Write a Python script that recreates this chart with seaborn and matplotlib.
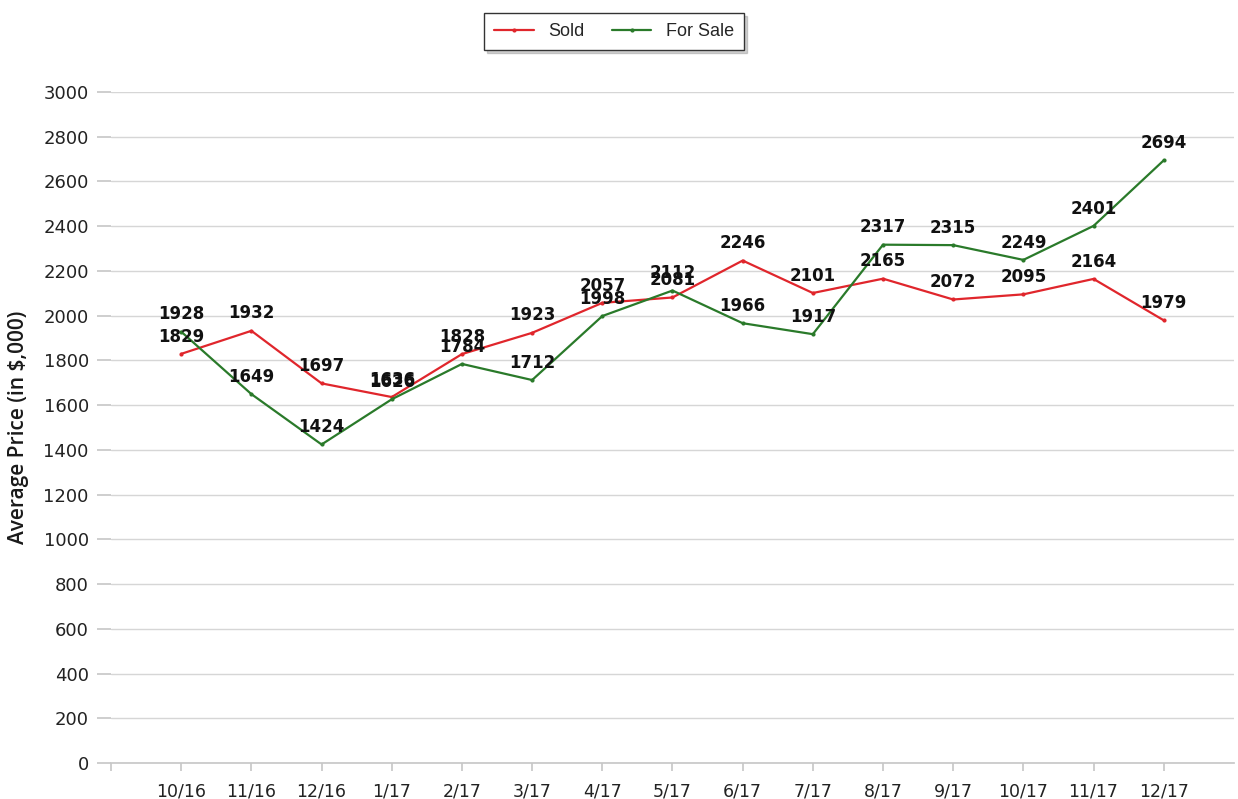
import numpy as np
import pandas as pd
import matplotlib
matplotlib.use("Agg")
import matplotlib.pyplot as plt
import seaborn as sns

# data
months = ["10/16", "11/16", "12/16", "1/17", "2/17", "3/17", "4/17", "5/17",
          "6/17", "7/17", "8/17", "9/17", "10/17", "11/17", "12/17"]
sold = [1829, 1932, 1697, 1636, 1828, 1923, 2057, 2081,
        2246, 2101, 2165, 2072, 2095, 2164, 1979]
for_sale = [1928, 1649, 1424, 1626, 1784, 1712, 1998, 2112,
            1966, 1917, 2317, 2315, 2249, 2401, 2694]
y_ticks = list(range(0, 3001, 200))

RED = "#e0262c"
GREEN = "#2a7a2a"

sns.set_theme(style="white")
plt.rcParams["font.family"] = ["DejaVu Sans"]

df = pd.DataFrame({
    "pos": list(range(len(months))) * 2,
    "price": sold + for_sale,
    "series": ["Sold"] * len(months) + ["For Sale"] * len(months),
})

fig = plt.figure(figsize=(12.38, 7.99), dpi=100)
ax = fig.add_axes([0.0897, 0.045, 0.907, 0.840])

sns.lineplot(data=df, x="pos", y="price", hue="series",
             palette={"Sold": RED, "For Sale": GREEN},
             marker="o", markersize=3, markeredgewidth=0,
             linewidth=1.6, ax=ax, legend=False)

# value labels (they overlap where the reference overlaps too)
for vals in (sold, for_sale):
    for i, v in enumerate(vals):
        ax.annotate(str(v), (i, v), xytext=(0, 6), textcoords="offset points",
                    ha="center", va="bottom", fontsize=12, fontweight="bold",
                    color="#111111")

ax.set_xlim(-1, 15)
ax.set_ylim(0, 3000)
ax.set_xticks(range(-1, 15))
ax.set_xticklabels([""] + months, fontsize=12.5, color="#222222")
ax.set_yticks(y_ticks)
ax.set_yticklabels([str(t) for t in y_ticks], fontsize=13, color="#222222")
ax.tick_params(axis="x", length=6, color="#c8c8c8", pad=8, direction="out",
               bottom=True)
ax.tick_params(axis="y", length=10, color="#c8c8c8", pad=6, left=True)
ax.grid(axis="y", color="#d6d6d6", linewidth=1)
ax.set_axisbelow(True)
for side in ("left", "right", "top"):
    ax.spines[side].set_visible(False)
ax.spines["bottom"].set_color("#c8c8c8")
ax.set_xlabel("")
ax.set_ylabel("Average Price (in $,000)", fontsize=15, fontweight="semibold",
              fontfamily=["Open Sans", "DejaVu Sans"],
              color="#1a1a1a", labelpad=10)

# legend at the top
handles = [plt.Line2D([], [], color=RED, lw=1.6, marker="o", ms=2),
           plt.Line2D([], [], color=GREEN, lw=1.6, marker="o", ms=2)]
leg = fig.legend(handles, ["Sold", "For Sale"], loc="upper center",
                 bbox_to_anchor=(0.496, 0.995), ncol=2, frameon=True,
                 fancybox=False, shadow={"ox": 2, "oy": -2, "alpha": 0.25},
                 edgecolor="#333333",
                 prop={"family": ["Liberation Sans", "DejaVu Sans"], "size": 13},
                 handlelength=2.2, columnspacing=1.5, borderpad=0.55)
leg.get_frame().set_linewidth(1)

fig.savefig("out.png", dpi=100)
